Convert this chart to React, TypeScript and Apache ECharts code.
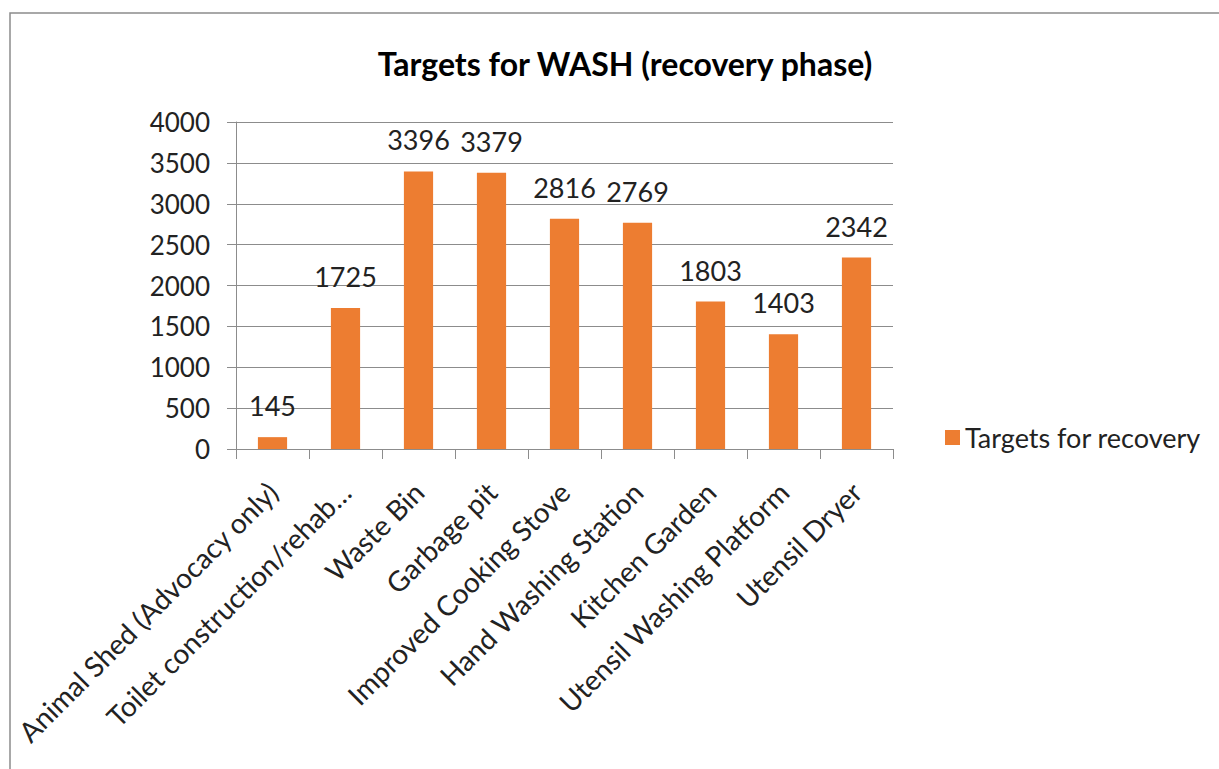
import React, { useEffect, useRef } from "react";
import * as echarts from "echarts";

const categories = [
  "Animal Shed (Advocacy only)",
  "Toilet construction/rehab…",
  "Waste Bin",
  "Garbage pit",
  "Improved Cooking Stove",
  "Hand Washing Station",
  "Kitchen Garden",
  "Utensil Washing Platform",
  "Utensil Dryer",
];
const targetsForRecovery = [145, 1725, 3396, 3379, 2816, 2769, 1803, 1403, 2342];
const seriesName = "Targets for recovery";
const titleText = "Targets for WASH (recovery phase)";

const FONT = "Lato, 'Open Sans', sans-serif";

export default function App() {
  const ref = useRef<HTMLDivElement>(null);
  useEffect(() => {
    if (!ref.current) return;
    const chart = echarts.init(ref.current, undefined, { renderer: "svg" });
    chart.setOption({
      animation: false,
      backgroundColor: "#ffffff",
      graphic: [
        {
          type: "rect",
          shape: { x: 10, y: 13, width: 1230, height: 800 },
          style: { fill: "none", stroke: "#8c8c8c", lineWidth: 1.5 },
          silent: true,
        },
      ],
      title: {
        text: titleText,
        left: 620,
        top: 42,
        textAlign: "center",
        textStyle: { fontFamily: FONT, fontSize: 32, fontWeight: "bold", color: "#000" },
      },
      legend: {
        data: [seriesName],
        left: 940,
        top: 419,
        itemWidth: 15,
        itemHeight: 15,
        itemGap: 9,
        icon: "rect",
        textStyle: { fontFamily: FONT, fontSize: 27, color: "#222" },
      },
      grid: { left: 236, right: 326, top: 122, bottom: 320, containLabel: false },
      xAxis: {
        type: "category",
        data: categories,
        axisLine: { lineStyle: { color: "#8c8c8c", width: 1 } },
        axisTick: { show: true, length: 10, lineStyle: { color: "#8c8c8c" } },
        axisLabel: {
          rotate: 45,
          interval: 0,
          margin: 38,
          fontFamily: FONT,
          fontSize: 28,
          color: "#222",
        },
      },
      yAxis: {
        type: "value",
        min: 0,
        max: 4000,
        interval: 500,
        axisLine: { show: true, lineStyle: { color: "#8c8c8c", width: 1 } },
        axisTick: { show: true, length: 9, lineStyle: { color: "#8c8c8c" } },
        splitLine: { lineStyle: { color: "#8c8c8c", width: 1 } },
        axisLabel: {
          fontFamily: FONT,
          fontSize: 26,
          color: "#222",
          margin: 26,
          formatter: (v: number) => String(v),
        },
      },
      series: [
        {
          name: seriesName,
          type: "bar",
          data: targetsForRecovery,
          barCategoryGap: "60%",
          itemStyle: { color: "#ed7d31" },
          label: {
            show: true,
            position: "top",
            distance: 18,
            fontFamily: FONT,
            fontSize: 27,
            color: "#222",
          },
        },
      ],
    });
    return () => chart.dispose();
  }, []);
  return (
    <div
      ref={ref}
      style={{ position: "absolute", left: 0, top: 0, width: 1219, height: 769 }}
    />
  );
}
